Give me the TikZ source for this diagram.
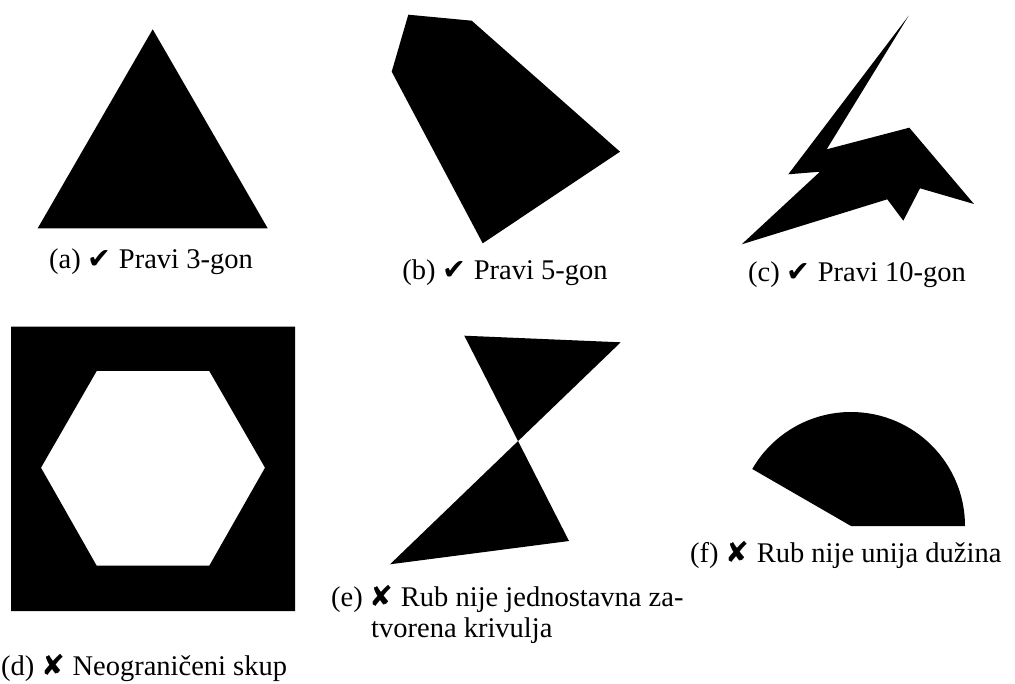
\documentclass[tikz,border=0pt]{standalone}
\usepackage{fontspec}
\setmainfont{Liberation Serif}
\newfontfamily\symfont{DejaVu Sans}
\newcommand{\yes}{{\symfont ✔}}
\newcommand{\no}{{\symfont ✘}}
\tikzset{
  shape fill/.style={fill=black, draw=none},
  caption/.style={inner sep=0pt, font=\fontsize{28.5}{31}\selectfont},
}
\begin{document}
\begin{tikzpicture}[x=1pt, y=-1pt]
\useasboundingbox (0,0) rectangle (1015,684);
% (a) triangle
\fill[shape fill] (152.7,29.3) -- (267.7,228.3) -- (37.7,228.3) -- cycle;
\node[caption] (capa) at (151,262) {(a) \yes\ Pravi 3-gon};
% (b) pentagon
\fill[shape fill] (408.3,14.7) -- (471.7,20.7) -- (620,151.7) -- (482.7,243.3) -- (391.7,71.7) -- cycle;
\node[caption] (capb) at (505,273) {(b) \yes\ Pravi 5-gon};
% (c) 10-gon
\fill[shape fill] (908.7,15.7) -- (826.7,149.3) -- (909.3,127.7) -- (974,204) -- (920,188.3)
  -- (903.3,220.7) -- (887.3,199.3) -- (741.7,244.3) -- (820,171.7) -- (788.3,174.3) -- cycle;
\node[caption] (capc) at (857,275) {(c) \yes\ Pravi 10-gon};
% (d) square with hexagonal hole
\fill[shape fill, even odd rule] (11,326.7) rectangle (295,611)
  (96.7,371) -- (209.3,371) -- (265,467.7) -- (209.3,565.7) -- (96.7,565.7) -- (41,467.7) -- cycle;
\node[caption, anchor=west] (capd) at (1,668) {(d) \no\ Neograničeni skup};
% (e) bow-tie
\fill[shape fill] (464.3,335.7) -- (620.7,342.3) -- (390,564.3) -- (569,541) -- cycle;
\node[caption, anchor=north west, align=left] (cape) at (331,585) {(e) \no\ Rub nije jednostavna za-\\\hspace*{40pt}tvorena krivulja};
% (f) circular sector
\fill[shape fill] (851,526) -- (965,526) arc[start angle=0, end angle=-150, radius=114] -- cycle;
\node[caption, anchor=west] (capf) at (690,555) {(f) \no\ Rub nije unija dužina};
\end{tikzpicture}
\end{document}
